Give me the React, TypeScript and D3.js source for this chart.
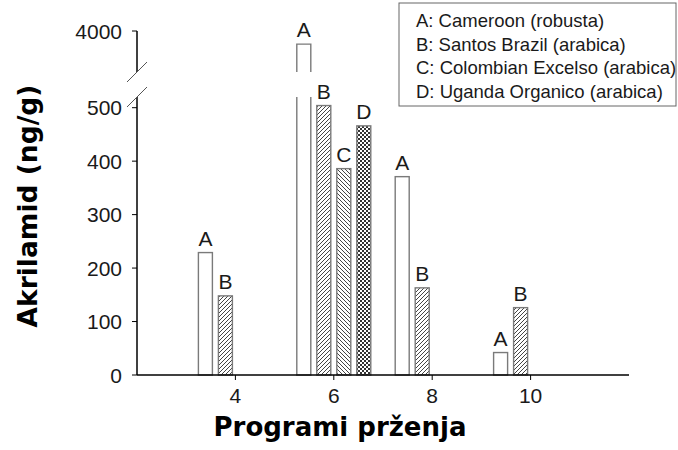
import React from "react";
import * as d3 from "d3";

const groups = [4, 6, 8, 10];
const seriesKeys = ["A", "B", "C", "D"];
const valuesA: (number | null)[] = [229, 3840, 371, 42];
const valuesB: (number | null)[] = [148, 504, 163, 126];
const valuesC: (number | null)[] = [null, 386, null, null];
const valuesD: (number | null)[] = [null, 466, null, null];
const legendLabels = [
  "A: Cameroon (robusta)",
  "B: Santos Brazil (arabica)",
  "C: Colombian Excelso (arabica)",
  "D: Uganda Organico (arabica)",
];
const lowerTicks = [0, 100, 200, 300, 400, 500];
const upperTicks = [4000];
const xTicks = [4, 6, 8, 10];

const W = 678;
const H = 450;

export default function App() {
  const x = d3.scaleLinear().domain([2, 12]).range([137, 629]);
  const inner = d3.scaleBand<string>().domain(seriesKeys).range([-37, 37]).paddingInner(0.3).paddingOuter(0);
  const yLow = d3.scaleLinear().domain([0, 520]).range([375, 97]);
  const yUp = d3.scaleLinear().domain([3500, 4000]).range([72, 31]);
  const lowMax = 520;

  const allValues = [valuesA, valuesB, valuesC, valuesD];
  const fills = ["#ffffff", "url(#hatchB)", "url(#hatchC)", "url(#hatchD)"];
  const axisX = 137;
  const baseY = yLow(0);
  const tickFont = "'Liberation Sans', Arial, sans-serif";
  const titleFont = "'DejaVu Sans', Verdana, sans-serif";

  const bars: React.ReactNode[] = [];
  const labels: React.ReactNode[] = [];
  allValues.forEach((vals, si) => {
    const key = seriesKeys[si];
    vals.forEach((v, gi) => {
      if (v == null) return;
      const left = x(groups[gi]) + (inner(key) as number);
      const bw = inner.bandwidth();
      const right = left + bw;
      let topY: number;
      if (v <= lowMax) {
        topY = yLow(v);
        bars.push(
          <rect key={`b${si}-${gi}`} x={left} y={topY} width={bw} height={baseY - topY}
            fill={fills[si]} stroke="#7a7a7a" strokeWidth={1.4} />
        );
      } else {
        topY = yUp(v);
        const upBottom = yUp.range()[0];
        const lowTop = yLow(lowMax);
        bars.push(
          <g key={`b${si}-${gi}`}>
            <rect x={left} y={topY} width={bw} height={upBottom - topY} fill={fills[si]} />
            <path d={`M${left},${upBottom}V${topY}H${right}V${upBottom}`} fill="none" stroke="#7a7a7a" strokeWidth={1.4} />
            <rect x={left} y={lowTop} width={bw} height={baseY - lowTop} fill={fills[si]} />
            <path d={`M${left},${lowTop}V${baseY}H${right}V${lowTop}`} fill="none" stroke="#7a7a7a" strokeWidth={1.4} />
          </g>
        );
      }
      labels.push(
        <text key={`l${si}-${gi}`} x={left + bw / 2} y={topY - 7} textAnchor="middle"
          fontFamily={tickFont} fontSize={21} fill="#1a1a1a">{key}</text>
      );
    });
  });

  return (
    <svg width={W} height={H} style={{ position: "absolute", left: 0, top: 0, background: "#fff" }}>
      <defs>
        <pattern id="hatchB" patternUnits="userSpaceOnUse" width={4} height={4}>
          <rect width={4} height={4} fill="#fff" />
          <path d="M-1,1 l2,-2 M0,4 l4,-4 M3,5 l2,-2" stroke="#444" strokeWidth={1} />
        </pattern>
        <pattern id="hatchC" patternUnits="userSpaceOnUse" width={4} height={4}>
          <rect width={4} height={4} fill="#fff" />
          <path d="M-1,3 l2,2 M0,0 l4,4 M3,-1 l2,2" stroke="#444" strokeWidth={1} />
        </pattern>
        <pattern id="hatchD" patternUnits="userSpaceOnUse" width={4} height={4}>
          <rect width={4} height={4} fill="#fff" />
          <rect x={0} y={0} width={2} height={2} fill="#333" />
          <rect x={2} y={2} width={2} height={2} fill="#333" />
        </pattern>
      </defs>

      {bars}
      {labels}

      {/* x axis */}
      <line x1={axisX} x2={x(12)} y1={baseY} y2={baseY} stroke="#000" strokeWidth={1.5} />
      {xTicks.map((t) => (
        <g key={`xt${t}`}>
          <line x1={x(t)} x2={x(t)} y1={baseY} y2={baseY + 5} stroke="#000" strokeWidth={1} />
          <text x={x(t)} y={baseY + 28} textAnchor="middle" fontFamily={tickFont} fontSize={21} fill="#1a1a1a">{t}</text>
        </g>
      ))}

      {/* y axis lower */}
      <line x1={axisX} x2={axisX} y1={baseY} y2={yLow(lowMax)} stroke="#000" strokeWidth={1.5} />
      {lowerTicks.map((t) => (
        <g key={`yl${t}`}>
          <line x1={axisX - 5} x2={axisX} y1={yLow(t)} y2={yLow(t)} stroke="#000" strokeWidth={1} />
          <text x={axisX - 15} y={yLow(t) + 7.5} textAnchor="end" fontFamily={tickFont} fontSize={21} fill="#1a1a1a">{t}</text>
        </g>
      ))}
      {/* y axis upper */}
      <line x1={axisX} x2={axisX} y1={yUp(4000)} y2={yUp.range()[0]} stroke="#000" strokeWidth={1.5} />
      {upperTicks.map((t) => (
        <g key={`yu${t}`}>
          <line x1={axisX - 5} x2={axisX} y1={yUp(t)} y2={yUp(t)} stroke="#000" strokeWidth={1} />
          <text x={axisX - 15} y={yUp(t) + 7.5} textAnchor="end" fontFamily={tickFont} fontSize={21} fill="#1a1a1a">{t}</text>
        </g>
      ))}
      {/* break marks */}
      <line x1={axisX - 10} y1={yUp.range()[0] + 10} x2={axisX + 10} y2={yUp.range()[0] - 10} stroke="#555" strokeWidth={1} />
      <line x1={axisX - 10} y1={yLow(lowMax) + 10} x2={axisX + 10} y2={yLow(lowMax) - 10} stroke="#555" strokeWidth={1} />

      {/* axis titles */}
      <text x={340} y={436} textAnchor="middle" fontFamily={titleFont} fontWeight="bold" fontSize={26} fill="#000">Programi prženja</text>
      <text transform="translate(37,206) rotate(-90)" textAnchor="middle" fontFamily={titleFont} fontWeight="bold" fontSize={26.5} fill="#000">Akrilamid (ng/g)</text>

      {/* legend */}
      <rect x={399} y={3} width={277} height={103} fill="#fff" stroke="#666" strokeWidth={1} />
      {legendLabels.map((l, i) => (
        <text key={`lg${i}`} x={416} y={27 + i * 23.5} fontFamily={tickFont} fontSize={18.5} fill="#1a1a1a">{l}</text>
      ))}
    </svg>
  );
}
